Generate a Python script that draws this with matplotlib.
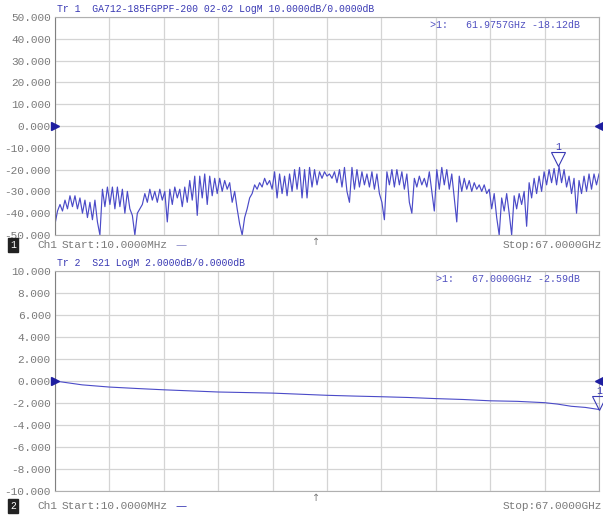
import numpy as np
import matplotlib.pyplot as plt
from matplotlib.transforms import offset_copy

# Tr 1: return loss trace (dB), evenly spaced over the sweep
s11_db = [
    -45, -39, -36, -39, -34, -38, -32, -37, -32, -38, -33, -40, -34, -42, -35, -43, -34, -44, -50, -29,
    -37, -28, -36, -28, -38, -28, -37, -29, -40, -30, -38, -41, -50, -40, -38, -36, -31, -35, -29, -34,
    -30, -35, -29, -34, -30, -44, -29, -36, -28, -33, -29, -37, -28, -35, -25, -34, -23, -41, -23, -33,
    -22, -36, -23, -32, -24, -31, -24, -30, -25, -29, -26, -35, -30, -38, -45, -50, -42, -38, -33, -31,
    -27, -29, -26, -28, -24, -27, -25, -29, -21, -33, -22, -31, -23, -32, -22, -30, -20, -29, -19, -33,
    -20, -33, -19, -28, -20, -27, -21, -24, -21, -23, -22, -24, -21, -26, -20, -28, -19, -30, -35, -19,
    -29, -20, -28, -21, -27, -22, -28, -21, -29, -22, -31, -35, -43, -21, -27, -20, -28, -20, -27, -21,
    -29, -22, -35, -40, -24, -28, -23, -27, -24, -28, -21, -30, -39, -20, -29, -19, -27, -20, -29, -22,
    -33, -44, -23, -30, -24, -29, -25, -30, -26, -29, -27, -30, -27, -31, -29, -38, -31, -42, -50, -33,
    -39, -31, -40, -50, -32, -38, -31, -36, -30, -46, -26, -33, -24, -31, -23, -30, -21, -27, -20, -26,
    -19.5, -27, -18.5, -26, -20, -28, -23, -31, -24, -40, -25, -31, -23, -30, -22, -29, -22, -27, -22,
]
s11_freq = np.linspace(0.01, 67.0, len(s11_db))

# Tr 2: S21 insertion loss
s21_freq = [0.01, 3.35, 6.7, 10.05, 13.4, 16.75, 20.1, 23.45, 26.8, 30.15, 33.5,
            36.85, 40.2, 43.55, 46.9, 50.25, 53.6, 56.95, 60.3, 61.9, 63.6, 65.3, 67.0]
s21_db = [0.0, -0.35, -0.55, -0.68, -0.8, -0.9, -1.0, -1.05, -1.1, -1.2, -1.3,
          -1.37, -1.43, -1.5, -1.6, -1.68, -1.8, -1.85, -1.97, -2.1, -2.3, -2.4, -2.59]

m1_freq, m1_db = 61.9757, -18.12
m2_freq, m2_db = 67.0, -2.59

TRACE = "#4b4bc8"
TITLE = "#3a3ab4"
GRAY = "#7a7a7a"

plt.rcParams["font.family"] = ["Liberation Mono", "DejaVu Sans Mono"]

fig = plt.figure(figsize=(6.03, 5.15), dpi=100)
ax1 = fig.add_axes([55 / 603, 1 - 235 / 515, 544 / 603, 218 / 515])
ax2 = fig.add_axes([55 / 603, 1 - 491 / 515, 544 / 603, 220 / 515])


def setup(ax, top, step):
    ax.set_xlim(0.01, 67.0)
    ax.set_ylim(-top, top)
    ax.set_xticks(np.linspace(0.01, 67.0, 11))
    ax.set_xticklabels([])
    yt = np.arange(-top, top + step / 2, step)
    ax.set_yticks(yt)
    ax.set_yticklabels([f"{v:.3f}" for v in yt], color=GRAY, fontsize=8)
    ax.tick_params(length=0, pad=3)
    ax.grid(True, color="#d4d4d4", lw=0.9)
    for s in ax.spines.values():
        s.set_color("#b0b0b0")
    ax.spines["left"].set_color("#808080")
    # reference level arrows on both edges
    ax.plot([0.01], [0], marker=">", color="#1e1ea0", ms=6, clip_on=False, zorder=5)
    ax.plot([67.0], [0], marker="<", color="#1e1ea0", ms=6, clip_on=False, zorder=5)
    ax.text(0.48, -0.03, "\u2191", transform=ax.transAxes, ha="center", va="center",
            color=GRAY, fontsize=7, family="DejaVu Sans")


setup(ax1, 50, 10)
setup(ax2, 10, 2)

ax1.plot(s11_freq, s11_db, color=TRACE, lw=0.85)
ax2.plot(s21_freq, s21_db, color=TRACE, lw=0.8)

# marker triangles, apex on the trace
for ax, f, v in [(ax1, m1_freq, m1_db), (ax2, m2_freq, m2_db)]:
    tr = offset_copy(ax.transData, fig=fig, x=0, y=4.5, units="points")
    ax.plot([f], [v], marker="v", ms=10, mfc="none", mec="#3a3ab4", mew=0.8,
            transform=tr, clip_on=False, zorder=6)
    tr2 = offset_copy(ax.transData, fig=fig, x=0, y=13, units="points")
    ax.text(f, v, "1", transform=tr2, ha="center", va="center", color="#3a3ab4", fontsize=7)

# titles and marker readouts
ax1.text(0.003, 1.012, "Tr 1  GA712-185FGPPF-200 02-02 LogM 10.0000dB/0.0000dB",
         transform=ax1.transAxes, ha="left", va="bottom", color=TITLE, fontsize=7)
ax2.text(0.003, 1.012, "Tr 2  S21 LogM 2.0000dB/0.0000dB",
         transform=ax2.transAxes, ha="left", va="bottom", color=TITLE, fontsize=7)
ax1.text(0.69, 0.965, f">1:   {m1_freq:.4f}GHz {m1_db:.2f}dB",
         transform=ax1.transAxes, ha="left", va="center", color="#5050c0", fontsize=7.2)
ax2.text(0.70, 0.965, f">1:   {m2_freq:.4f}GHz {m2_db:.2f}dB",
         transform=ax2.transAxes, ha="left", va="center", color="#5050c0", fontsize=7.2)

# channel status lines
for y, num, dash in [(245, "1", "#8a8ac8"), (506, "2", "#3a3ab4")]:
    yf = 1 - y / 515
    fig.text(10 / 603, yf, num, ha="left", va="center", color="white", fontsize=7,
             bbox=dict(boxstyle="square,pad=0.25", fc="#222222", ec="#222222"))
    fig.text(37 / 603, yf, "Ch1", ha="left", va="center", color=GRAY, fontsize=8)
    fig.text(62 / 603, yf, "Start:10.0000MHz", ha="left", va="center", color=GRAY, fontsize=8)
    fig.text(175 / 603, yf, "\u2014", ha="left", va="center", color=dash, fontsize=8,
             family="DejaVu Sans")
    fig.text(602 / 603, yf, "Stop:67.0000GHz", ha="right", va="center", color=GRAY, fontsize=8)

fig.savefig("out.png", dpi=100)
